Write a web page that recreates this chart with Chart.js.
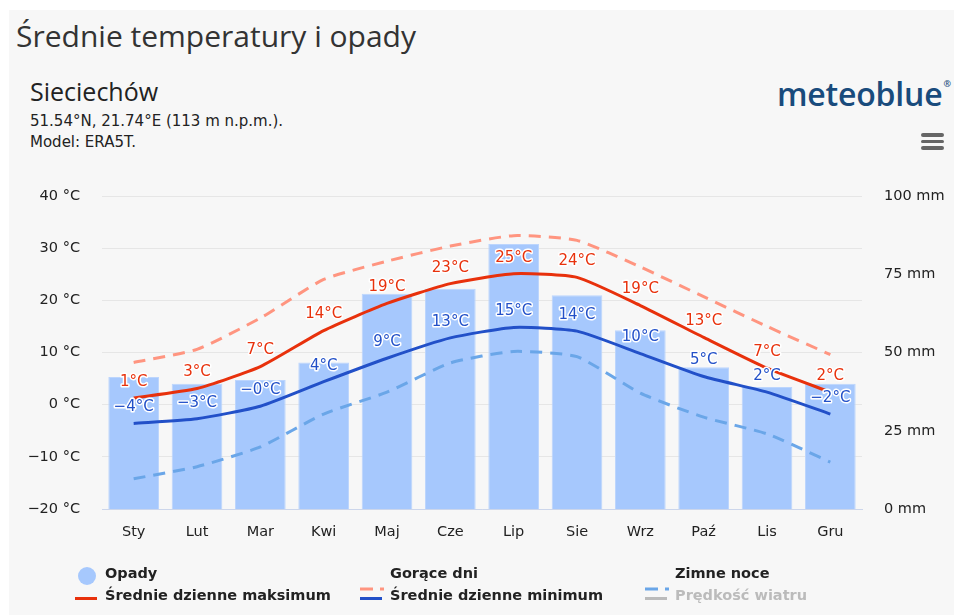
<!DOCTYPE html>
<html>
<head>
<meta charset="utf-8">
<script src="https://cdn.jsdelivr.net/npm/chart.js@4"></script>
<style>
  html, body { margin: 0; padding: 0; background: #fff; }
  body { width: 954px; height: 615px; position: relative; overflow: hidden; font-family: "Open Sans", sans-serif; }
  #panel { position: absolute; left: 9px; top: 10px; right: 0; bottom: 0; background: #f7f7f7; }
  #chart { position: absolute; left: 0; top: 0; }
  .txt { position: absolute; white-space: nowrap; }
  #title { left: 16px; top: 15px; font-size: 30px; color: #333; }
  #place { left: 30px; top: 74px; font-size: 25px; color: #222; }
  #coords { left: 30px; top: 112px; font-size: 15px; color: #222; font-family: "DejaVu Sans", sans-serif; }
  #model { left: 30px; top: 133px; font-size: 15px; color: #222; font-family: "DejaVu Sans", sans-serif; }
  #logo { left: 777px; top: 72px; font-size: 32px; color: #194b7c; font-weight: 600; letter-spacing: -0.2px; }
  #logo sup { font-size: 9px; vertical-align: 19px; margin-left: 1px; }
  #menu { position: absolute; left: 921px; top: 133px; width: 23px; }
  #menu div { height: 3.5px; background: #666; border-radius: 2px; margin-bottom: 3px; }
  .leg { position: absolute; font-family: "DejaVu Sans", sans-serif; font-weight: bold; font-size: 14.5px; color: #222; }
  .sym { position: absolute; }
</style>
</head>
<body>
<div id="panel"></div>
<div class="txt" id="title">Średnie temperatury i opady</div>
<div class="txt" id="place">Sieciechów</div>
<div class="txt" id="coords">51.54°N, 21.74°E (113 m n.p.m.).</div>
<div class="txt" id="model">Model: ERA5T.</div>
<div class="txt" id="logo">meteoblue<sup>®</sup></div>
<div id="menu"><div></div><div></div><div></div></div>
<canvas id="chart" width="954" height="615"></canvas>
<div id="legend"></div>
<script>
const months = ['Sty', 'Lut', 'Mar', 'Kwi', 'Maj', 'Cze', 'Lip', 'Sie', 'Wrz', 'Paź', 'Lis', 'Gru'];
const precipitation = [42.2, 40.0, 41.2, 46.8, 68.8, 70.4, 84.7, 68.3, 57.1, 45.3, 39.0, 40.0];
const meanMax = [1.3, 3.1, 7.3, 14.2, 19.4, 23.2, 25.1, 24.4, 19.0, 12.9, 7.0, 2.4];
const meanMin = [-3.6, -2.7, -0.3, 4.4, 8.9, 12.8, 14.8, 14.1, 9.8, 5.4, 2.4, -1.8];
const hotDays = [8.1, 10.6, 16.6, 24.0, 27.5, 30.4, 32.4, 31.5, 26.4, 20.7, 15.0, 9.6];
const coldNights = [-14.2, -11.9, -8.1, -1.8, 2.4, 8.0, 10.2, 9.2, 2.2, -2.4, -5.6, -11.0];
const tempTicks = [-20, -10, 0, 10, 20, 30, 40];
const rainTicks = [0, 25, 50, 75, 100];

const RED = '#e8310c';
const BLUE = '#2250c8';
const HOT = '#ff9580';
const COLD = '#6aa6e8';
const BAR = '#a6c8fd';

function minus(n) {
    return n < 0 ? '\u2212' + Math.abs(n) : String(n);
}

function tempLabel(v) {
    const r = Math.round(v);
    if (r === 0 && v < 0) return '\u22120°C';
    return minus(r) + '°C';
}

// value labels above the max/min lines, white halo like the original
const pointLabels = {
    id: 'pointLabels',
    afterDatasetsDraw(chart) {
        const ctx = chart.ctx;
        chart.data.datasets.forEach((ds, i) => {
            if (!ds.showLabels) return;
            const meta = chart.getDatasetMeta(i);
            ctx.save();
            ctx.font = '15px "DejaVu Sans", sans-serif';
            ctx.textAlign = 'center';
            ctx.textBaseline = 'middle';
            ctx.lineJoin = 'round';
            meta.data.forEach((pt, j) => {
                const s = tempLabel(ds.data[j]);
                ctx.lineWidth = 3;
                ctx.strokeStyle = '#fff';
                ctx.strokeText(s, pt.x, pt.y - 16);
                ctx.fillStyle = ds.borderColor;
                ctx.fillText(s, pt.x, pt.y - 16);
            });
            ctx.restore();
        });
    }
};

new Chart(document.getElementById('chart'), {
    type: 'bar',
    data: {
        labels: months,
        datasets: [
            {
                type: 'line',
                label: 'Średnie dzienne maksimum',
                data: meanMax,
                borderColor: RED,
                borderWidth: 3,
                pointRadius: 0,
                tension: 0.18,
                showLabels: true,
                yAxisID: 'y',
                order: 1
            },
            {
                type: 'line',
                label: 'Średnie dzienne minimum',
                data: meanMin,
                borderColor: BLUE,
                borderWidth: 3,
                pointRadius: 0,
                tension: 0.18,
                showLabels: true,
                yAxisID: 'y',
                order: 2
            },
            {
                type: 'line',
                label: 'Gorące dni',
                data: hotDays,
                borderColor: HOT,
                borderWidth: 3,
                borderDash: [12, 8],
                pointRadius: 0,
                tension: 0.18,
                yAxisID: 'y',
                order: 3
            },
            {
                type: 'line',
                label: 'Zimne noce',
                data: coldNights,
                borderColor: COLD,
                borderWidth: 3,
                borderDash: [12, 8],
                pointRadius: 0,
                tension: 0.18,
                yAxisID: 'y',
                order: 4
            },
            {
                label: 'Opady',
                data: precipitation,
                backgroundColor: BAR,
                borderColor: '#bcd5fd',
                borderWidth: 1,
                barPercentage: 0.8,
                categoryPercentage: 1,
                yAxisID: 'y1',
                order: 10
            }
        ]
    },
    options: {
        responsive: false,
        animation: false,
        devicePixelRatio: 1,
        layout: { padding: { top: 196, left: 0, right: 0, bottom: 66 } },
        plugins: {
            legend: { display: false },
            tooltip: { enabled: false }
        },
        scales: {
            x: {
                grid: { display: false },
                border: { display: true, color: '#ccd6eb', width: 1 },
                ticks: { color: '#222', font: { family: 'DejaVu Sans', size: 14.5 }, padding: 7 },
                afterFit: s => { s.height = 40; }
            },
            y: {
                position: 'left',
                min: -20,
                max: 40,
                afterBuildTicks: s => { s.ticks = tempTicks.map(v => ({ value: v })); },
                ticks: {
                    color: '#222',
                    font: { family: 'DejaVu Sans', size: 14.5 },
                    padding: 22,
                    callback: v => minus(v) + ' °C'
                },
                grid: { color: '#e6e6e6', drawTicks: false, lineWidth: 1 },
                border: { display: false },
                afterFit: s => { s.width = 102; }
            },
            y1: {
                position: 'right',
                min: 0,
                max: 100,
                afterBuildTicks: s => { s.ticks = rainTicks.map(v => ({ value: v })); },
                ticks: {
                    color: '#222',
                    font: { family: 'DejaVu Sans', size: 14.5 },
                    padding: 22,
                    callback: v => v + ' mm'
                },
                grid: { display: false, drawTicks: false },
                border: { display: false },
                afterFit: s => { s.width = 92; }
            }
        }
    },
    plugins: [pointLabels]
});

// html legend, three columns like the original
const legendItems = [
    { text: 'Opady', kind: 'circle', color: BAR, x: 75, y: 576 },
    { text: 'Gorące dni', kind: 'dash', color: HOT, x: 360, y: 576 },
    { text: 'Zimne noce', kind: 'dash', color: COLD, x: 645, y: 576 },
    { text: 'Średnie dzienne maksimum', kind: 'line', color: RED, x: 75, y: 598 },
    { text: 'Średnie dzienne minimum', kind: 'line', color: BLUE, x: 360, y: 598 },
    { text: 'Prędkość wiatru', kind: 'line', color: '#bbb', x: 645, y: 598, hidden: true }
];
const legend = document.getElementById('legend');
legendItems.forEach(it => {
    const sym = document.createElement('div');
    sym.className = 'sym';
    if (it.kind === 'circle') {
        sym.style.cssText = `left:${it.x + 3}px;top:${it.y - 9}px;width:18px;height:18px;border-radius:50%;background:${it.color}`;
    } else if (it.kind === 'dash') {
        sym.innerHTML = `<svg width="24" height="4"><line x1="0" y1="2" x2="24" y2="2" stroke="${it.color}" stroke-width="3" stroke-dasharray="13,7"/></svg>`;
        sym.style.cssText = `left:${it.x}px;top:${it.y - 2}px;height:4px`;
    } else {
        sym.style.cssText = `left:${it.x}px;top:${it.y - 1.5}px;width:22px;height:3px;background:${it.color}`;
    }
    legend.appendChild(sym);
    const t = document.createElement('div');
    t.className = 'leg';
    t.textContent = it.text;
    t.style.left = (it.x + 30) + 'px';
    t.style.top = (it.y - 11) + 'px';
    if (it.hidden) t.style.color = '#bbb';
    legend.appendChild(t);
});
</script>
</body>
</html>
